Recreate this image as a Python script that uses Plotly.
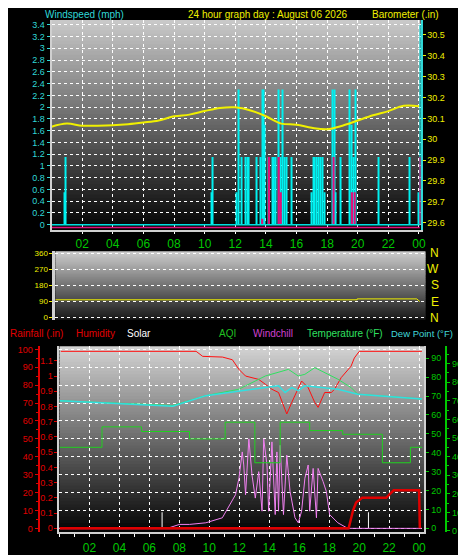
import plotly.graph_objects as go

# ---- top panel: wind + barometer ----
wind_hours = [0.87, 0.93, 10.45, 10.49, 12.1, 12.21, 12.43, 12.64, 12.79, 12.9, 13.38, 13.66, 13.76, 13.87, 13.94,
              14.2, 14.41, 14.47, 14.52, 14.63, 14.84, 14.97, 15.1, 15.19, 15.32, 15.66, 17.0, 17.1, 17.2, 17.3,
              17.43, 17.54, 17.69, 17.82, 18.38, 18.47, 18.58, 18.9, 19.48, 19.59, 19.7, 19.85, 21.36, 23.37, 24.0, 24.1]
wind_speed = [0.55, 1.15, 0.55, 1.15, 0.55, 2.3, 1.15, 1.15, 1.15, 1.15, 1.15, 1.15, 2.3, 2.3, 1.7,
              1.15, 1.15, 1.15, 1.15, 1.15, 2.3, 1.15, 2.3, 1.15, 1.15, 1.15, 0.55, 1.15, 1.15, 1.15,
              1.15, 1.15, 1.15, 0.55, 2.3, 2.3, 0.55, 1.15, 2.3, 1.7, 1.15, 2.3, 1.15, 1.15, 0.55, 3.4]
gust_hours = [13.76, 14.2, 14.84, 14.97, 18.42, 19.62, 19.8, 24.1]
gust_speed = [0.1, 1.15, 1.15, 0.55, 1.15, 0.55, 0.55, 1.15]

baro_hours = list(range(25))
baro = [30.06, 30.075, 30.065, 30.065, 30.067, 30.072, 30.08, 30.09, 30.11, 30.118, 30.135, 30.15, 30.153,
        30.138, 30.11, 30.075, 30.07, 30.055, 30.048, 30.065, 30.09, 30.115, 30.135, 30.16, 30.158]

# ---- middle panel: wind direction ----
dir_hours = [0, 20.0, 20.0, 23.9, 24.1]
wind_dir = [100, 100, 105, 105, 90]

# ---- bottom panel ----
hum_hours = [0.09, 9.12, 9.56, 10.88, 11.54, 11.98, 12.42, 13.3, 13.74, 14.18, 14.62, 14.95, 15.17, 15.5, 15.94,
             16.16, 16.6, 17.04, 17.26, 17.7, 18.14, 18.36, 18.8, 19.46, 19.68, 20.01, 24.19]
humidity = [98.9, 98.9, 96.1, 95.7, 94.2, 88.8, 85.1, 83.2, 80.5, 77.7, 75.9, 68.5, 63.9, 70.3, 77.7,
            82.3, 78.6, 70.3, 67.6, 75.9, 75.9, 77.7, 84.2, 90.6, 95.2, 98.9, 98.9]

temp_hours = [0.0, 7.57, 9.77, 11.97, 13.74, 15.28, 15.94, 16.38, 17.04, 18.58, 19.46, 19.9, 21.22, 24.19]
temperature = [67.5, 65.0, 70.2, 73.6, 80.6, 84.1, 80.6, 81.5, 85.0, 78.9, 74.5, 71.0, 70.2, 68.4]
dew_hours = [0.0, 7.57, 9.77, 11.97, 13.74, 14.62, 15.06, 15.5, 15.94, 16.38, 17.7, 18.58, 19.9, 24.19]
dewpoint = [67.5, 64.6, 70.2, 72.8, 74.5, 75.4, 71.9, 74.5, 72.8, 75.4, 74.5, 73.6, 71.0, 68.4]

aqi_hours = [0, 2.84, 5.48, 8.68, 11.06, 13.04, 14.73, 16.7, 18.9, 21.55, 23.42, 24.2]
aqi = [45, 56, 53.5, 49.5, 58.5, 36.7, 58.5, 54, 52, 36.7, 45, 45]

chill_hours = [0, 7.2, 8.01, 8.67, 9.77, 10.87, 11.75, 11.98, 12.2, 12.3, 12.42, 12.64, 12.85, 13.07, 13.3,
               13.52, 13.63, 13.85, 13.96, 14.18, 14.4, 14.51, 14.62, 14.73, 14.95, 15.17, 15.39, 15.72,
               15.94, 16.16, 16.38, 16.6, 16.7, 16.93, 17.15, 17.26, 17.59, 17.81, 18.03, 18.58, 19.24, 24.19]
windchill = [0, 0, 2.2, 2.2, 3.1, 5.9, 18.8, 28.0, 42.7, 35.4, 18.8, 50.0, 29.8, 16.9, 31.7,
             9.6, 50.0, 35.4, 9.6, 48.3, 7.7, 42.7, 9.6, 46.4, 7.7, 40.9, 20.6, 5.9,
             3.1, 9.6, 28.0, 35.4, 9.6, 33.5, 5.9, 33.5, 26.2, 20.6, 7.7, 3.1, 0, 0]

rain_hours = [0, 19.3, 19.6, 19.8, 20.2, 21.8, 22.3, 24.0, 24.05]
rainfall = [0, 0, 0.12, 0.17, 0.2, 0.2, 0.25, 0.25, 0]

solar_hours = [6.85, 20.62]
solar = [9, 9]

hour_ticks = list(range(2, 25, 2))
hour_labels = ["%02d" % (h % 24) for h in hour_ticks]

W, H = 466, 555
def px(x): return x / W
def py(y): return 1 - y / H

GRN = "#00c800"
CYAN = "#30d8d8"
YEL = "#f0f000"
RED = "#e00000"
FONT = "Liberation Sans"

fig = go.Figure()

# top
fig.add_trace(go.Bar(x=wind_hours, y=wind_speed, width=0.07, marker_color="#00f0f0", marker_line_width=0,
                     xaxis="x", yaxis="y"))
fig.add_trace(go.Bar(x=gust_hours, y=gust_speed, width=0.14, marker_color="#e0107a", marker_line_width=0,
                     xaxis="x", yaxis="y"))
fig.add_trace(go.Scatter(x=[0, 24.05], y=[0, 0], mode="lines", line=dict(color="#00e0e0", width=1.5),
                         xaxis="x", yaxis="y"))
fig.add_trace(go.Scatter(x=[0, 24.05], y=[-0.05, -0.05], mode="lines", line=dict(color="#e0107a", width=1.5),
                         xaxis="x", yaxis="y"))
fig.add_trace(go.Scatter(x=baro_hours, y=baro, mode="lines", line=dict(color=YEL, width=2, shape="spline"),
                         xaxis="x", yaxis="y2"))
# middle
fig.add_trace(go.Scatter(x=dir_hours, y=wind_dir, mode="lines", line=dict(color=YEL, width=1),
                         xaxis="x2", yaxis="y3"))
# bottom
fig.add_trace(go.Scatter(x=aqi_hours, y=aqi, mode="lines", line=dict(color="#20d020", width=1, shape="hv"),
                         xaxis="x3", yaxis="y7"))
fig.add_trace(go.Scatter(x=solar_hours, y=solar, mode="markers", marker=dict(size=0.1, color="white"),
                         error_y=dict(type="data", symmetric=False, array=[0, 0], arrayminus=solar,
                                      color="white", thickness=1, width=0),
                         xaxis="x3", yaxis="y4"))
fig.add_trace(go.Scatter(x=chill_hours, y=windchill, mode="lines", line=dict(color="#f080f0", width=1),
                         xaxis="x3", yaxis="y4"))
fig.add_trace(go.Scatter(x=temp_hours, y=temperature, mode="lines", line=dict(color="#30e060", width=1),
                         xaxis="x3", yaxis="y6"))
fig.add_trace(go.Scatter(x=dew_hours, y=dewpoint, mode="lines", line=dict(color="#30e0e0", width=1.5),
                         xaxis="x3", yaxis="y6"))
fig.add_trace(go.Scatter(x=hum_hours, y=humidity, mode="lines", line=dict(color="#ff1010", width=1),
                         xaxis="x3", yaxis="y4"))
fig.add_trace(go.Scatter(x=[0, 19.3], y=[0, 0], mode="lines", line=dict(color="#ff40a0", width=2),
                         xaxis="x3", yaxis="y5"))
fig.add_trace(go.Scatter(x=rain_hours, y=rainfall, mode="lines", line=dict(color="#e00000", width=2.5),
                         xaxis="x3", yaxis="y5"))

# gradient backgrounds
shapes = []
def gradient(x0, x1, y0, y1, c_top, c_bot, n=60):
    for i in range(n):
        t = i / (n - 1)
        c = int(c_top + (c_bot - c_top) * t)
        ya = y0 + (y1 - y0) * i / n
        yb = y0 + (y1 - y0) * (i + 1) / n + 1
        shapes.append(dict(type="rect", xref="paper", yref="paper", x0=px(x0), x1=px(x1),
                           y0=py(ya), y1=py(min(yb, y1)), fillcolor="rgb(%d,%d,%d)" % (c, c, c),
                           line_width=0, layer="below"))
gradient(44, 417, 10, 222, 200, 5)
gradient(48, 422, 244, 313, 205, 25)
gradient(52, 421, 340, 528, 210, 5)

grid = dict(showgrid=True, gridcolor="white", griddash="dot", gridwidth=1, zeroline=False)
tick = dict(size=9, family=FONT)

xtop = dict(domain=[px(44), px(417)], range=[0, 24.1], tickvals=hour_ticks, ticktext=hour_labels,
            tickfont=dict(size=12, color=GRN, family=FONT), ticks="outside", ticklen=2, tickcolor="white",
            showline=True, linecolor="#d0d0d0", linewidth=2, **grid)
fig.update_layout(
    width=W, height=H, margin=dict(l=0, r=0, t=0, b=0),
    paper_bgcolor="black", plot_bgcolor="rgba(0,0,0,0)", showlegend=False, barmode="overlay",
    shapes=shapes,
    xaxis=dict(anchor="y", **xtop),
    yaxis=dict(domain=[py(222), py(10)], range=[-0.084, 3.484], tickvals=[i / 5 for i in range(18)],
               ticktext=["%g" % (i / 5) for i in range(18)], tickfont=dict(color=CYAN, **tick),
               ticks="outside", ticklen=3, tickcolor=CYAN, showline=True, linecolor="#d0d0d0", linewidth=2, **grid),
    yaxis2=dict(overlaying="y", side="right", range=[29.567, 30.572], tickvals=[29.6 + i / 10 for i in range(10)],
                ticktext=["29.6", "29.7", "29.8", "29.9", "30", "30.1", "30.2", "30.3", "30.4", "30.5"],
                tickfont=dict(color=YEL, **tick), ticks="outside", ticklen=3, tickcolor=YEL,
                showgrid=False, zeroline=False, showline=True, linecolor=CYAN, linewidth=2),
    xaxis2=dict(domain=[px(48), px(422)], range=[0.26, 24.47], anchor="y3", showticklabels=False,
                tickvals=hour_ticks, showgrid=False, zeroline=False),
    yaxis3=dict(domain=[py(313), py(244)], range=[-11, 371], anchor="x2", tickvals=[0, 90, 180, 270, 360],
                tickfont=dict(color=YEL, size=8, family=FONT), ticks="outside", ticklen=3, tickcolor=YEL,
                showline=True, linecolor="#d0d0d0", linewidth=3, **grid),
    xaxis3=dict(domain=[px(52), px(421)], range=[0, 24.36], anchor="y4", tickvals=hour_ticks,
                ticktext=hour_labels, tickfont=dict(size=12, color=GRN, family=FONT), ticks="outside",
                ticklen=3, tickcolor="white", minor=dict(dtick=1, ticks="outside", ticklen=3, tickcolor="white"),
                showline=True, linecolor="#d0d0d0", linewidth=2, **grid),
    yaxis4=dict(domain=[py(528), py(340)], range=[-2.2, 101.7], anchor="free", position=px(31),
                tickvals=list(range(0, 101, 10)), tickfont=dict(color=RED, **tick), ticks="outside",
                ticklen=3, tickcolor=RED, showline=True, linecolor=RED, linewidth=2,
                minor=dict(dtick=5, ticks="outside", ticklen=2, tickcolor=RED), **grid),
    yaxis5=dict(overlaying="y4", anchor="x3", range=[-0.026, 1.195], tickvals=[i / 10 for i in range(12)],
                ticktext=["0", "0.1", "0.2", "0.3", "0.4", "0.5", "0.6", "0.7", "0.8", "0.9", "1", "1.1"],
                tickfont=dict(color=RED, **tick), ticks="outside", ticklen=3, tickcolor=RED,
                showgrid=False, zeroline=False, showline=True, linecolor="#d0d0d0", linewidth=2),
    yaxis6=dict(overlaying="y4", side="right", anchor="x3", range=[-2.1, 96.3], tickvals=list(range(0, 91, 10)),
                tickfont=dict(color=GRN, **tick), ticks="outside", ticklen=3, tickcolor=GRN,
                showgrid=False, zeroline=False, showline=True, linecolor="#d0d0d0", linewidth=2),
    yaxis7=dict(overlaying="y4", side="right", anchor="free", position=px(443), range=[-0.7, 99.3],
                tickvals=list(range(0, 101, 10)), tickfont=dict(color=GRN, **tick), ticks="outside",
                ticklen=3, tickcolor=GRN, minor=dict(dtick=5, ticks="outside", ticklen=2, tickcolor=GRN),
                showgrid=False, zeroline=False, showline=True, linecolor=GRN, linewidth=2),
)

def label(x, y, text, color, anchor="left", size=10):
    fig.add_annotation(x=px(x), y=py(y), xref="paper", yref="paper", text=text, showarrow=False,
                       xanchor=anchor, yanchor="middle", font=dict(color=color, size=size, family=FONT))

label(35, 5, "Windspeed (mph)", CYAN)
label(262, 5, "24 hour graph day : August 06 2026", YEL, "center")
label(438, 5, "Barometer (.in)", YEL, "right")
label(0, 327, "Rainfall (.in)", RED)
label(67, 327, "Humidity", RED)
label(118, 327, "Solar", "white")
label(211, 327, "AQI", "#20c020")
label(246, 327, "Windchill", "#d040d0")
label(300, 327, "Temperature (°F)", "#30e060")
label(452, 327, "Dew Point (°F)", "#40d8d8", "right", 9.5)
for v, t in zip([0, 90, 180, 270, 360], ["N", "E", "S", "W", "N"]):
    fig.add_annotation(x=px(438), y=v, xref="paper", yref="y3", text=t, showarrow=False,
                       font=dict(color=YEL, size=12, family=FONT))

fig.write_html("out.html")
